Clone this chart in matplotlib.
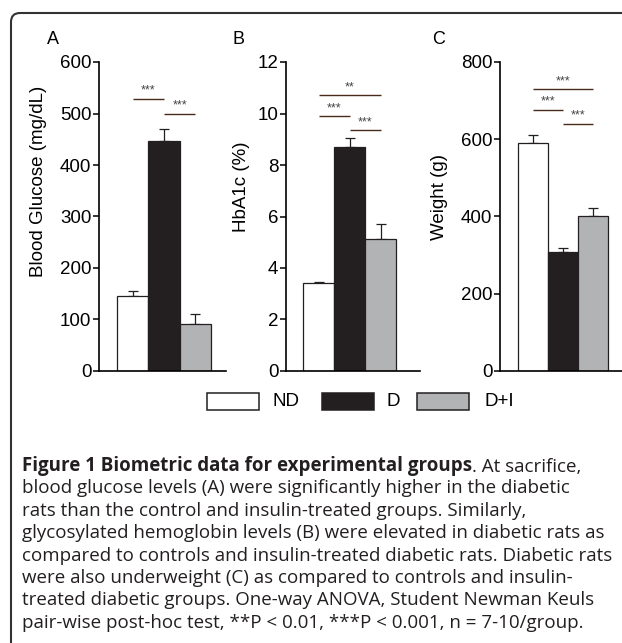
import matplotlib.pyplot as plt
from matplotlib.patches import FancyBboxPatch, Rectangle

# group names and bar colours
groups = ['ND', 'D', 'D+I']
bar_colors = ['white', '#231f20', '#b2b3b5']

# values
glucose = [145, 446, 92]
glucose_err = [10, 24, 18]
hba1c = [3.43, 8.71, 5.14]
hba1c_err = [0.04, 0.35, 0.55]
weight = [591, 307, 401]
weight_err = [20, 11, 20]

# significance bars: (from group, to group, label, height)
sig_glucose = [(0, 1, '***', 529), (1, 2, '***', 500)]
sig_hba1c = [(0, 2, '**', 10.7), (0, 1, '***', 9.9), (1, 2, '***', 9.34)]
sig_weight = [(0, 2, '***', 730), (0, 1, '***', 677), (1, 2, '***', 640)]

y_ticks_glucose = [0, 100, 200, 300, 400, 500, 600]
y_ticks_hba1c = [0, 2, 4, 6, 8, 10, 12]
y_ticks_weight = [0, 200, 400, 600, 800]

caption_bold = 'Figure 1 Biometric data for experimental groups'
caption_lines = [
    '. At sacrifice,',
    'blood glucose levels (A) were significantly higher in the diabetic',
    'rats than the control and insulin-treated groups. Similarly,',
    'glycosylated hemoglobin levels (B) were elevated in diabetic rats as',
    'compared to controls and insulin-treated diabetic rats. Diabetic rats',
    'were also underweight (C) as compared to controls and insulin-',
    'treated diabetic groups. One-way ANOVA, Student Newman Keuls',
    'pair-wise post-hoc test, **P < 0.01, ***P < 0.001, n = 7-10/group.',
]

W, H = 622, 643
fig = plt.figure(figsize=(W / 100, H / 100), dpi=100)
plt.rcParams['font.family'] = ['Liberation Sans', 'DejaVu Sans']

dark = '#231f20'
sig_color = '#4a2a1a'

# panel layout in pixels: left, right, xlim
panels = [
    dict(vals=glucose, err=glucose_err, sig=sig_glucose, ticks=y_ticks_glucose,
         left=99, right=226, xlim=(-1.077, 2.98), letter='A', letter_x=53,
         label='Blood Glucose (mg/dL)', label_xy=(39, 181)),
    dict(vals=hba1c, err=hba1c_err, sig=sig_hba1c, ticks=y_ticks_hba1c,
         left=286, right=420, xlim=(-1.05, 3.27), letter='B', letter_x=239,
         label='HbA1c (%)', label_xy=(242, 187)),
    dict(vals=weight, err=weight_err, sig=sig_weight, ticks=y_ticks_weight,
         left=500, right=622, xlim=(-1.1, 2.97), letter='C', letter_x=439,
         label='Weight (g)', label_xy=(440, 197)),
]
top, bottom = 62, 371

x = range(len(groups))
for p in panels:
    ax = fig.add_axes([p['left'] / W, 1 - bottom / H,
                       (p['right'] - p['left']) / W, (bottom - top) / H])
    ax.bar(x, p['vals'], width=1.0, color=bar_colors, edgecolor=dark,
           linewidth=0.9, zorder=2)
    ax.errorbar(x, p['vals'], yerr=[[0] * 3, p['err']], fmt='none',
                ecolor=dark, elinewidth=0.9, capsize=3.5, capthick=0.9, zorder=1)
    ymax = p['ticks'][-1]
    for i, j, lab, h in p['sig']:
        ax.plot([i, j], [h, h], color=sig_color, lw=1.0, solid_capstyle='butt')
        ax.annotate(lab, xy=((i + j) / 2, h), xytext=(0, 1.5),
                    textcoords='offset points', ha='center', va='bottom',
                    fontsize=9, color='#444444')
    ax.set_xlim(*p['xlim'])
    ax.set_ylim(0, ymax)
    ax.set_yticks(p['ticks'])
    ax.set_xticks([])
    for s in ['top', 'right']:
        ax.spines[s].set_visible(False)
    for s in ['left', 'bottom']:
        ax.spines[s].set_linewidth(1.2)
        ax.spines[s].set_color('black')
    ax.tick_params(axis='y', length=4, width=1.1, pad=1.5, labelsize=13.5,
                   colors='black')
    ax.patch.set_alpha(0)
    p['ax'] = ax

# overlay in pixel coordinates for frame, labels, legend, caption
bg = fig.add_axes([0, 0, 1, 1], zorder=-1)
bg.set_xlim(0, W)
bg.set_ylim(H, 0)
bg.axis('off')

frame = FancyBboxPatch((11, 13), 700, 700,
                       boxstyle='round,pad=0,rounding_size=9',
                       facecolor='white', edgecolor='#333333', linewidth=1.5)
bg.add_patch(frame)

for p in panels:
    bg.text(p['letter_x'], 40, p['letter'], fontsize=13, ha='center',
            va='center', color='black')
    lx, ly = p['label_xy']
    bg.text(lx, ly, p['label'], fontsize=13.5, rotation=90, ha='center',
            va='center', color='black')

# legend
box_x = [207, 322, 417]
text_x = [272, 387, 484]
for bx, tx, g, c in zip(box_x, text_x, groups, bar_colors):
    bg.add_patch(Rectangle((bx, 393), 52, 17, facecolor=c,
                           edgecolor=dark, linewidth=1.1))
    bg.text(tx, 402, g, fontsize=13.5, ha='left', va='center', color='black')

# caption
cap_font = ['Open Sans', 'DejaVu Sans']
cap_size = 13.5
base_y = 471
step = 22.4
t1 = bg.text(22, base_y, caption_bold, fontsize=cap_size, fontweight='bold',
             family=cap_font, color=dark, va='baseline')
bg.annotate(caption_lines[0], xy=(1, 0), xycoords=t1, va='bottom', ha='left',
            fontsize=cap_size, family=cap_font, color=dark)
for k, line in enumerate(caption_lines[1:], start=1):
    bg.text(22, base_y + k * step, line, fontsize=cap_size, family=cap_font,
            color=dark, va='baseline')

fig.savefig('out.png', dpi=100)
